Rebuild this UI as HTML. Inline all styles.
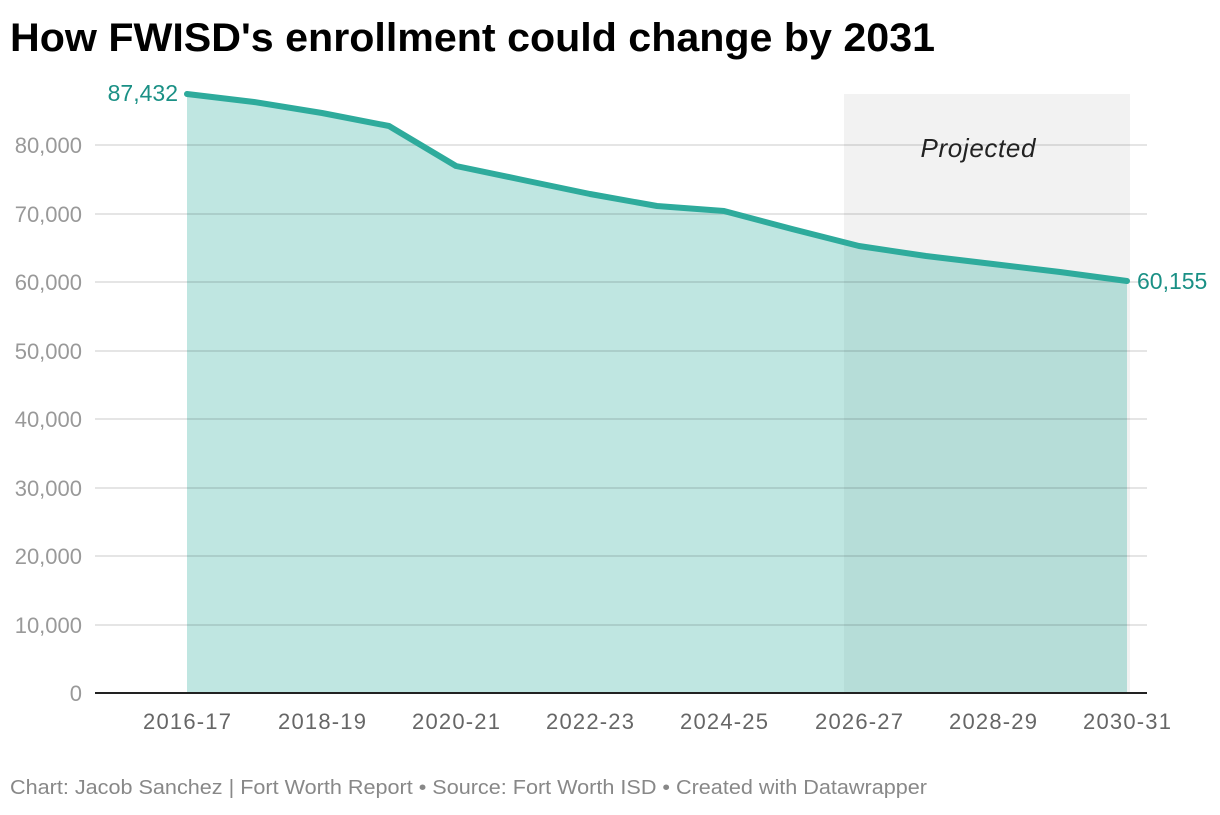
<!DOCTYPE html>
<html><head><meta charset="utf-8"><style>
body{margin:0;background:#fff;width:1220px;height:810px;overflow:hidden;font-family:"Liberation Sans",sans-serif}
</style></head><body>
<svg width="1220" height="810" xmlns="http://www.w3.org/2000/svg" font-family="Liberation Sans, sans-serif">
<text x="10" y="51" font-size="40" font-weight="bold" fill="#000" textLength="925" lengthAdjust="spacingAndGlyphs">How FWISD's enrollment could change by 2031</text>
<rect x="844" y="94" width="286" height="599" fill="#f2f2f2"/>
<path d="M187,94 L254,102 L322,113 L389,126 L456,166 L523,180 L590,194 L657,206 L724,211 L792,229 L859,246 L926,256 L993,264 L1060,272 L1127,281 L1127,693 L187,693 Z" fill="#2aab9c" fill-opacity="0.3"/>
<g stroke="#000" stroke-opacity="0.1" stroke-width="2">
<line x1="95" y1="145" x2="1147" y2="145"/><line x1="95" y1="214" x2="1147" y2="214"/><line x1="95" y1="282" x2="1147" y2="282"/><line x1="95" y1="351" x2="1147" y2="351"/><line x1="95" y1="419" x2="1147" y2="419"/><line x1="95" y1="488" x2="1147" y2="488"/><line x1="95" y1="556" x2="1147" y2="556"/><line x1="95" y1="625" x2="1147" y2="625"/>
</g>
<line x1="95" y1="693" x2="1147" y2="693" stroke="#222" stroke-width="2"/>
<path d="M187,94 L254,102 L322,113 L389,126 L456,166 L523,180 L590,194 L657,206 L724,211 L792,229 L859,246 L926,256 L993,264 L1060,272 L1127,281" fill="none" stroke="#2eab9c" stroke-width="6" stroke-linejoin="round" stroke-linecap="round"/>
<g font-size="22" fill="#999" text-anchor="end">
<text x="82" y="153">80,000</text><text x="82" y="222">70,000</text><text x="82" y="290">60,000</text><text x="82" y="359">50,000</text><text x="82" y="427">40,000</text><text x="82" y="496">30,000</text><text x="82" y="564">20,000</text><text x="82" y="633">10,000</text><text x="82" y="701">0</text>
</g>
<g font-size="22" fill="#666" text-anchor="middle">
<text x="187" y="729" textLength="88">2016-17</text><text x="322" y="729" textLength="88">2018-19</text><text x="456" y="729" textLength="88">2020-21</text><text x="590" y="729" textLength="88">2022-23</text><text x="724" y="729" textLength="88">2024-25</text><text x="859" y="729" textLength="88">2026-27</text><text x="993" y="729" textLength="88">2028-29</text><text x="1127" y="729" textLength="88">2030-31</text>
</g>
<text x="178" y="101" font-size="23" fill="#1a9085" text-anchor="end">87,432</text>
<text x="1137" y="289" font-size="23" fill="#1a9085">60,155</text>
<text x="978" y="157" font-size="26" font-style="italic" fill="#222" text-anchor="middle" textLength="115">Projected</text>
<text x="10" y="794" font-size="20" fill="#888" textLength="917" lengthAdjust="spacingAndGlyphs">Chart: Jacob Sanchez | Fort Worth Report • Source: Fort Worth ISD • Created with Datawrapper</text>
</svg>
</body></html>
